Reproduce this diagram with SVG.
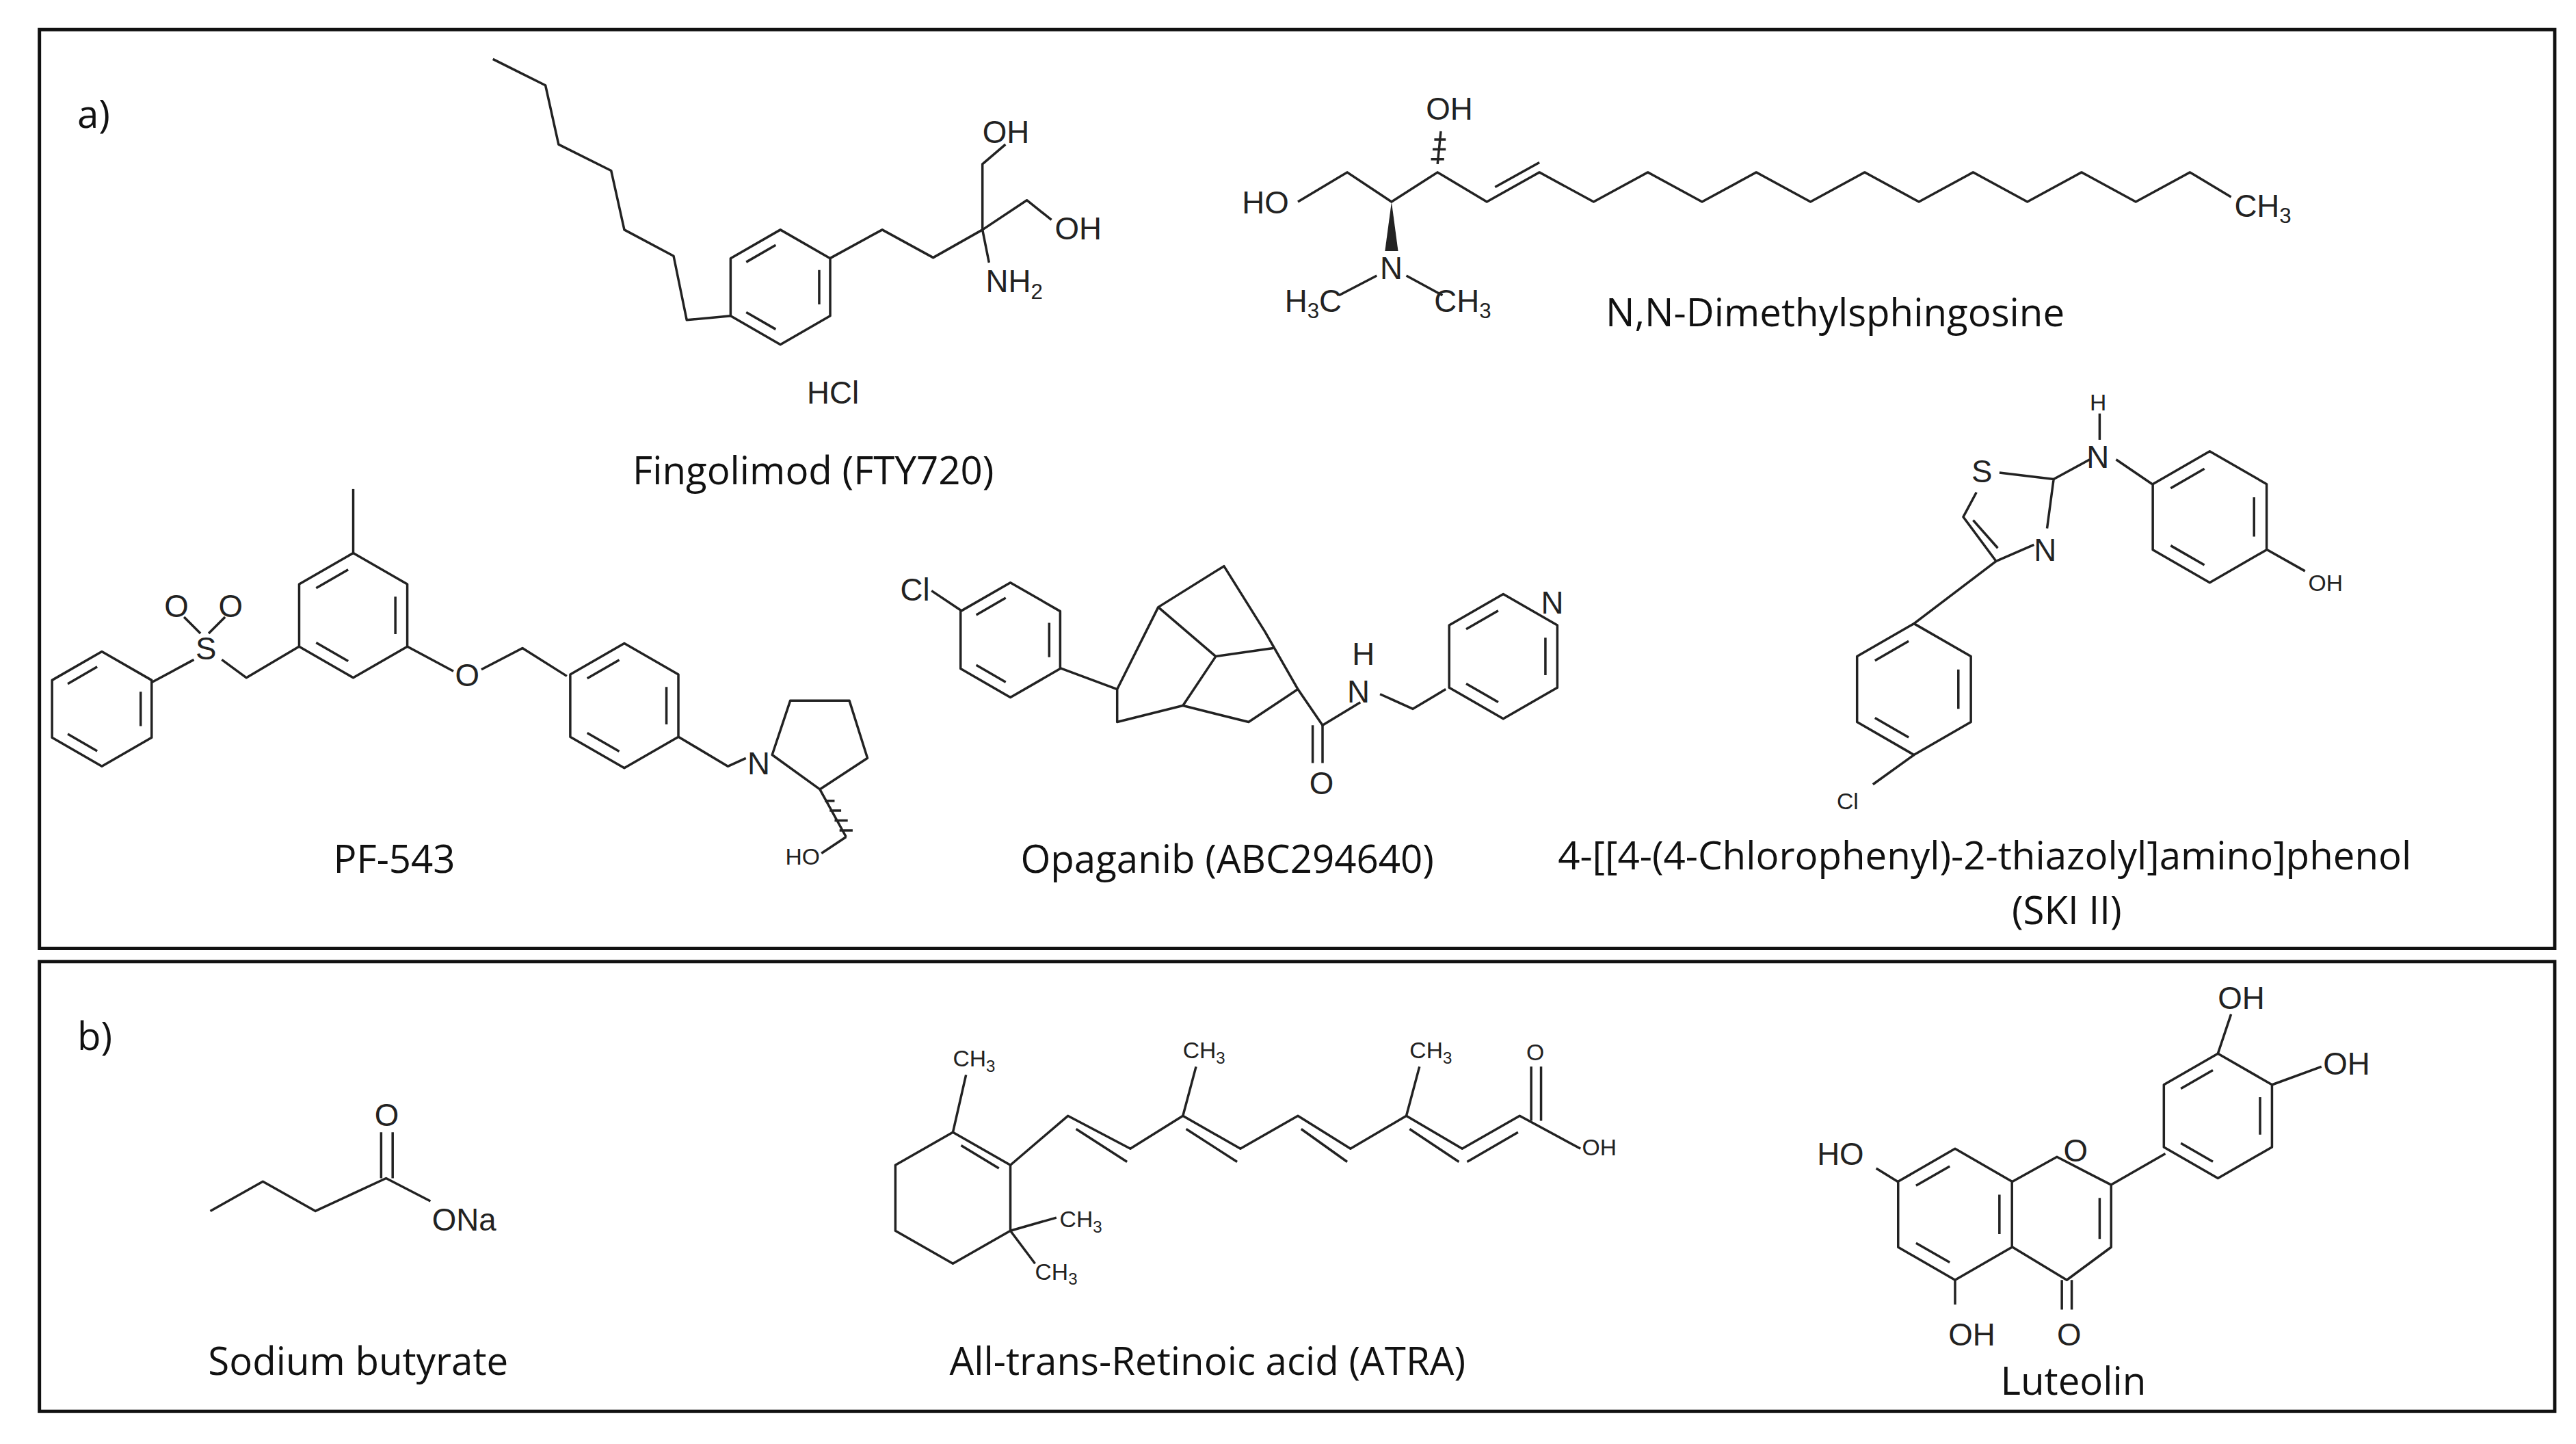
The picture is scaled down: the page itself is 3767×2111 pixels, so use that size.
<svg xmlns="http://www.w3.org/2000/svg" xmlns:xlink="http://www.w3.org/1999/xlink" width="3767" height="2111" viewBox="0 0 3767 2111">
<style>
.b{fill:none;stroke:#222;stroke-width:3.5;vector-effect:non-scaling-stroke;stroke-linejoin:round}
.f{fill:none;stroke:#111;stroke-width:5;vector-effect:non-scaling-stroke}
.t{font-family:"Open Sans","Liberation Sans",sans-serif;font-size:23.5px;fill:#111}
.a{font-family:"Liberation Sans",sans-serif;font-size:19px;fill:#222}
.s{font-family:"Liberation Sans",sans-serif;font-size:14px;fill:#222}
</style>
<defs>
<g id="hex" class="b">
<polygon class="b" points="0,-1 0.866,-0.5 0.866,0.5 0,1 -0.866,0.5 -0.866,-0.5"/>
<path class="b" d="M0.675,-0.3L0.675,0.3M-0.081,0.733L-0.594,0.437M-0.594,-0.437L-0.081,-0.733"/>
</g>
</defs>
<rect width="3767" height="2111" fill="#fff"/>
<g transform="scale(2.4025,2.399)">
<rect class="f" x="24" y="18" width="1531" height="560"/>
<rect class="f" x="24" y="586" width="1531" height="274"/>
<text class="t" x="47" y="78">a)</text>
<text class="t" x="47" y="640">b)</text>

<!-- Fingolimod -->
<g id="fingolimod">
<polyline class="b" points="300,36 332,52 340,88 372,104 380,140 410,156 418,195 445,192.5"/>
<use xlink:href="#hex" transform="translate(475,175) scale(35)"/>
<polyline class="b" points="505,157.5 537,140 568,157 598,140 598,100 612,88"/>
<polyline class="b" points="598,140 625,122 640,134"/>
<line class="b" x1="598" y1="140" x2="602" y2="160"/>
<text class="a" x="598" y="87">OH</text>
<text class="a" x="642" y="146">OH</text>
<text class="a" x="600" y="178">NH<tspan font-size="13" dy="4">2</tspan></text>
<text class="a" x="507" y="246" text-anchor="middle">HCl</text>
<text class="t" x="495" y="295" text-anchor="middle">Fingolimod (FTY720)</text>
</g>

<!-- N,N-Dimethylsphingosine -->
<g id="dms">
<text class="a" x="756" y="130">HO</text>
<polyline class="b" points="790,123 820,105 847,123 875,105 905,123 937,105 970,123 1003,105 1036,123 1069,105 1102,123 1135,105 1168,123 1201,105 1234,123 1267,105 1300,123 1333,105 1358,120"/>
<line class="b" x1="910" y1="114" x2="937" y2="99"/>
<polygon points="847,123 843,153 851,153" fill="#222"/>
<path class="b" d="M875,100L877,80M871,97h8M872,91h8M873,85h7"/>
<text class="a" x="868" y="73">OH</text>
<text class="a" x="840" y="170">N</text>
<polyline class="b" points="838,168 815,180"/>
<polyline class="b" points="856,168 878,180"/>
<text class="a" x="782" y="190">H<tspan font-size="13" dy="4">3</tspan><tspan dy="-4">C</tspan></text>
<text class="a" x="873" y="190">CH<tspan font-size="13" dy="4">3</tspan></text>
<text class="a" x="1360" y="132">CH<tspan font-size="13" dy="4">3</tspan></text>
<text class="t" x="1117" y="199" text-anchor="middle">N,N-Dimethylsphingosine</text>
</g>

<!-- PF-543 -->
<g id="pf543">
<line class="b" x1="215" y1="298" x2="215" y2="337"/>
<use xlink:href="#hex" transform="translate(215,375) scale(38)"/>
<polyline class="b" points="182,394 150,413 135,402"/>
<text class="a" x="119" y="402">S</text>
<text class="a" x="100" y="376">O</text>
<text class="a" x="133" y="376">O</text>
<path class="b" d="M122,386L112,376M127,386L137,376"/>
<line class="b" x1="118" y1="402" x2="92" y2="416"/>
<use xlink:href="#hex" transform="translate(62,432) scale(35)"/>
<polyline class="b" points="248,394 276,409"/>
<text class="a" x="277" y="418">O</text>
<polyline class="b" points="293,408 318,395 345,412"/>
<use xlink:href="#hex" transform="translate(380,430) scale(38)"/>
<polyline class="b" points="413,449 443,467 454,462"/>
<text class="a" x="455" y="472">N</text>
<polygon class="b" points="470,460 481,427 517,427 528,462 499,481"/>
<path class="b" d="M499,481L515,510M502,488h6M505,494h7M508,500h8M511,506h8"/>
<line class="b" x1="515" y1="510" x2="500" y2="520"/>
<text class="s" x="478" y="527">HO</text>
<text class="t" x="240" y="532" text-anchor="middle">PF-543</text>
</g>

<!-- Opaganib -->
<g id="opaganib">
<text class="a" x="548" y="366">Cl</text>
<line class="b" x1="567" y1="360" x2="585" y2="372"/>
<use xlink:href="#hex" transform="translate(615,390) scale(35)"/>
<path class="b" d="M645,407L680,420L705,370L745,345L770,385L790,420L760,440L720,430L680,440L680,420M705,370L740,400L775,395M720,430L740,400M790,420L770,385"/>
<polyline class="b" points="790,420 805,442 828,428"/>
<path class="b" d="M805,442L805,465M799,442L799,465"/>
<text class="a" x="797" y="484">O</text>
<text class="a" x="820" y="428">N</text>
<text class="a" x="823" y="405">H</text>
<polyline class="b" points="840,423 860,432 880,420"/>
<use xlink:href="#hex" transform="translate(915,400) scale(38)"/>
<text class="a" x="938" y="374">N</text>
<text class="t" x="747" y="532" text-anchor="middle">Opaganib (ABC294640)</text>
</g>

<!-- SKI II -->
<g id="ski2">
<text class="a" x="1200" y="294">S</text>
<polyline class="b" points="1217,288 1250,292 1246,322"/>
<polyline class="b" points="1238,332 1215,342 1195,315 1203,300"/>
<line class="b" x1="1201" y1="317" x2="1216" y2="334"/>
<text class="a" x="1238" y="342">N</text>
<line class="b" x1="1250" y1="292" x2="1272" y2="280"/>
<text class="a" x="1270" y="285">N</text>
<line class="b" x1="1278" y1="252" x2="1278" y2="268"/>
<text class="s" x="1272" y="250">H</text>
<line class="b" x1="1288" y1="280" x2="1310" y2="295"/>
<use xlink:href="#hex" transform="translate(1345,315) scale(40)"/>
<line class="b" x1="1380" y1="335" x2="1403" y2="348"/>
<text class="s" x="1405" y="360">OH</text>
<line class="b" x1="1215" y1="342" x2="1165" y2="380"/>
<use xlink:href="#hex" transform="translate(1165,420) scale(40)"/>
<line class="b" x1="1165" y1="460" x2="1140" y2="478"/>
<text class="s" x="1118" y="493">Cl</text>
<text class="t" x="1208" y="530" text-anchor="middle">4-[[4-(4-Chlorophenyl)-2-thiazolyl]amino]phenol</text>
<text class="t" x="1258" y="563" text-anchor="middle">(SKI II)</text>
</g>

<!-- Sodium butyrate -->
<g id="butyrate">
<polyline class="b" points="128,738 160,720 192,738 235,718 262,732"/>
<path class="b" d="M232,718V690M239,718V690"/>
<text class="a" x="228" y="686">O</text>
<text class="a" x="263" y="750">ONa</text>
<text class="t" x="218" y="838" text-anchor="middle">Sodium butyrate</text>
</g>

<!-- ATRA -->
<g id="atra">
<polygon class="b" points="580,690 615,710 615,750 580,770 545,750 545,710"/>
<line class="b" x1="585" y1="698" x2="608" y2="712"/>
<line class="b" x1="580" y1="690" x2="588" y2="655"/>
<text class="s" x="580" y="650">CH<tspan font-size="10" dy="3">3</tspan></text>
<line class="b" x1="615" y1="750" x2="643" y2="742"/>
<line class="b" x1="615" y1="750" x2="630" y2="770"/>
<text class="s" x="645" y="748">CH<tspan font-size="10" dy="3">3</tspan></text>
<text class="s" x="630" y="780">CH<tspan font-size="10" dy="3">3</tspan></text>
<polyline class="b" points="615,710 650,680 688,700 720,680 755,700 790,680 822,700 856,680 890,700 925,680 962,700"/>
<path class="b" d="M655,688L686,708M722,688L753,708M792,688L820,708M858,688L888,708M893,708L924,690"/>
<line class="b" x1="720" y1="680" x2="728" y2="650"/>
<line class="b" x1="856" y1="680" x2="864" y2="650"/>
<text class="s" x="720" y="645">CH<tspan font-size="10" dy="3">3</tspan></text>
<text class="s" x="858" y="645">CH<tspan font-size="10" dy="3">3</tspan></text>
<path class="b" d="M932,683V650M938,683V650"/>
<text class="s" x="929" y="646">O</text>
<text class="s" x="963" y="704">OH</text>
<text class="t" x="735" y="838" text-anchor="middle">All-trans-Retinoic acid (ATRA)</text>
</g>

<!-- Luteolin -->
<g id="luteolin">
<use xlink:href="#hex" transform="translate(1190,740) scale(40)"/>
<polyline class="b" points="1225,720 1252,705 1285,722 1285,760 1258,780 1225,760"/>
<line class="b" x1="1278" y1="730" x2="1278" y2="755"/>
<text class="a" x="1256" y="708">O</text>
<path class="b" d="M1255,780V798M1261,780V798"/>
<text class="a" x="1252" y="820">O</text>
<line class="b" x1="1190" y1="780" x2="1190" y2="795"/>
<text class="a" x="1186" y="820">OH</text>
<line class="b" x1="1155" y1="720" x2="1142" y2="712"/>
<text class="a" x="1106" y="710">HO</text>
<line class="b" x1="1285" y1="722" x2="1318" y2="703"/>
<use xlink:href="#hex" transform="translate(1350,680) scale(38)"/>
<line class="b" x1="1350" y1="642" x2="1358" y2="618"/>
<text class="a" x="1350" y="615">OH</text>
<line class="b" x1="1383" y1="661" x2="1413" y2="650"/>
<text class="a" x="1414" y="655">OH</text>
<text class="t" x="1262" y="850" text-anchor="middle">Luteolin</text>
</g>
</g>
</svg>
